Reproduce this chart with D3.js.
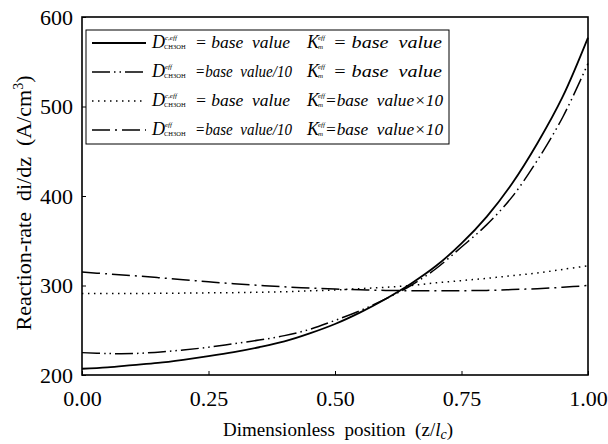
<!DOCTYPE html>
<html>
<head>
<meta charset="utf-8">
<script src="https://cdn.jsdelivr.net/npm/d3@7"></script>
<style>
  body { margin: 0; background: #fff; }
  svg { display: block; }
  text { font-family: "Liberation Serif", "Times New Roman", serif; fill: #000; }
</style>
</head>
<body>
<script>
// dimensionless position z/lc
const positions = [0, 0.05, 0.1, 0.15, 0.2, 0.25, 0.3, 0.35, 0.4, 0.45, 0.5, 0.55, 0.6, 0.65, 0.7, 0.75, 0.8, 0.85, 0.9, 0.95, 1.0];

// reaction rate, A/cm3
const baseBase   = [207, 208.5, 211, 213.5, 217, 221, 225.5, 231, 237.5, 246.5, 257, 270, 285, 302, 322, 347, 377, 414, 459, 511, 577];
const dTenthBase = [225, 224, 224, 225.5, 228, 231, 235, 239, 244, 251, 261, 272, 285, 300, 319, 343, 368, 399, 440, 488, 548];
const baseKx10   = [291, 291, 291, 291.3, 291.5, 291.8, 292, 292.5, 293, 294, 295, 296.5, 298, 300, 303, 305.5, 308, 311, 314, 318, 322];
const dTenthKx10 = [315, 313, 311, 308.8, 306.5, 304.2, 302, 300.2, 298.5, 297.2, 296, 295.2, 294.5, 294.2, 294, 294.2, 294.5, 295.4, 296.5, 298, 300];

const xTicks = [0, 0.25, 0.5, 0.75, 1.0];
const yTicks = [200, 300, 400, 500, 600];

const width = 608, height = 444;
const margin = { left: 82, right: 20, top: 17, bottom: 69 };

const svg = d3.select('body').append('svg')
    .attr('width', width)
    .attr('height', height)
    .attr('font-family', '"Liberation Serif", "Times New Roman", serif');

const x = d3.scaleLinear().domain([0, 1]).range([margin.left, width - margin.right]);
const y = d3.scaleLinear().domain([200, 600]).range([height - margin.bottom, margin.top]);

// series with their dash styles
const series = [
    { values: baseBase,   dash: null,                 w: 1.8 },
    { values: dTenthBase, dash: '18,4,1.5,4,1.5,4',   w: 1.5 },
    { values: baseKx10,   dash: '1.5,4.5',            w: 1.5 },
    { values: dTenthKx10, dash: '18,5,2,5',           w: 1.5 }
];

const line = d3.line()
    .x((d, i) => x(positions[i]))
    .y(d => y(d))
    .curve(d3.curveCatmullRom.alpha(0.5));

series.forEach(s => {
    svg.append('path')
        .datum(s.values)
        .attr('d', line)
        .attr('fill', 'none')
        .attr('stroke', '#000')
        .attr('stroke-width', s.w)
        .attr('stroke-dasharray', s.dash);
});

// axes with inward ticks
const xAxis = svg.append('g')
    .attr('transform', `translate(0,${y(200)})`)
    .call(d3.axisBottom(x).tickValues(xTicks).tickSize(-4).tickPadding(10).tickFormat(d3.format('.2f')));
const yAxis = svg.append('g')
    .attr('transform', `translate(${x(0)},0)`)
    .call(d3.axisLeft(y).tickValues(yTicks).tickSize(-4).tickPadding(9).tickFormat(d3.format('d')));

[xAxis, yAxis].forEach(g => {
    g.attr('font-family', null).attr('font-size', null);
    g.select('.domain').remove();
    g.selectAll('line').attr('stroke', '#000').attr('stroke-width', 1);
    g.selectAll('text').style('font-size', '22px').attr('fill', '#000');
});
xAxis.selectAll('text').attr('dy', '0.95em');

// frame
svg.append('rect')
    .attr('x', x(0)).attr('y', y(600))
    .attr('width', x(1) - x(0)).attr('height', y(200) - y(600))
    .attr('fill', 'none').attr('stroke', '#000').attr('stroke-width', 1.6);

// axis titles
svg.append('text')
    .attr('x', 338)
    .attr('y', 436)
    .attr('text-anchor', 'middle')
    .style('font-size', '19px')
    .attr('xml:space', 'preserve')
    .html('Dimensionless  position  (z/<tspan font-style="italic">l</tspan><tspan font-style="italic" font-size="14px" dy="3">c</tspan><tspan dy="-3">)</tspan>');

svg.append('text')
    .attr('transform', 'translate(31,203) rotate(-90)')
    .attr('text-anchor', 'middle')
    .style('font-size', '22px')
    .attr('xml:space', 'preserve')
    .html('Reaction-rate  di/dz  (A/cm<tspan font-size="14px" dy="-8">3</tspan><tspan dy="8">)</tspan>');

// legend
const legendRows = [
    { dSup: 'c,eff', dRhs: '= base  value',   dLen: 95, kRhs: '= base  value',      kX: 333, kLen: 109 },
    { dSup: 'eff',   dRhs: '=base  value/10', dLen: 97, kRhs: '= base  value',      kX: 333, kLen: 109 },
    { dSup: 'c,eff', dRhs: '= base  value',   dLen: 95, kRhs: '=base  value\u00d710', kX: 325, kLen: 118 },
    { dSup: 'eff',   dRhs: '=base  value/10', dLen: 97, kRhs: '=base  value\u00d710', kX: 325, kLen: 118 }
];

const legend = svg.append('g');
legend.append('rect')
    .attr('x', 86).attr('y', 30)
    .attr('width', 363).attr('height', 114)
    .attr('fill', '#fff').attr('stroke', '#000').attr('stroke-width', 1);

legendRows.forEach((r, i) => {
    const base = 48 + i * 29;
    const s = series[i];
    legend.append('line')
        .attr('x1', 92).attr('x2', 146)
        .attr('y1', base - 5).attr('y2', base - 5)
        .attr('stroke', '#000').attr('stroke-width', s.w)
        .attr('stroke-dasharray', s.dash);

    const row = legend.append('g').style('font-style', 'italic');
    row.append('text').attr('x', 152).attr('y', base).style('font-size', '18px').text('D');
    row.append('text').attr('x', 165).attr('y', base - 8).style('font-size', '7px').text(r.dSup);
    row.append('text').attr('x', 164).attr('y', base + 1).style('font-size', '6.5px').style('font-style', 'normal').text('CH3OH');
    row.append('text').attr('x', 195).attr('y', base).style('font-size', '16.5px')
        .attr('xml:space', 'preserve')
        .attr('textLength', r.dLen).attr('lengthAdjust', 'spacingAndGlyphs')
        .text(r.dRhs);

    row.append('text').attr('x', 307).attr('y', base).style('font-size', '18px').text('K');
    row.append('text').attr('x', 318).attr('y', base - 8).style('font-size', '7px').text('eff');
    row.append('text').attr('x', 318).attr('y', base + 1).style('font-size', '7px').text('m');
    row.append('text').attr('x', r.kX).attr('y', base).style('font-size', '16.5px')
        .attr('xml:space', 'preserve')
        .attr('textLength', r.kLen).attr('lengthAdjust', 'spacingAndGlyphs')
        .text(r.kRhs);
});
</script>
</body>
</html>
